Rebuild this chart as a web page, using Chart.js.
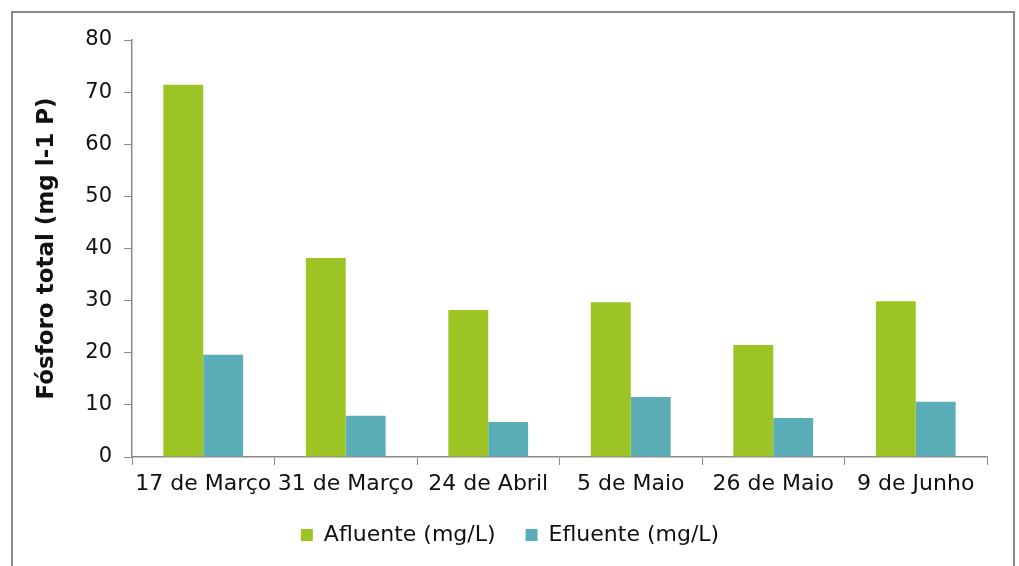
<!DOCTYPE html>
<html>
<head>
<meta charset="utf-8">
<script src="https://cdn.jsdelivr.net/npm/chart.js@4.4.1/dist/chart.umd.min.js"></script>
<style>
  html, body { margin: 0; padding: 0; background: #fff; }
  #wrap { position: relative; width: 1019px; height: 566px; overflow: hidden; }
  #frame { position: absolute; left: 11px; top: 11px; width: 1004px; height: 600px;
           border: 2px solid #8a8a8a; box-sizing: border-box; }
  #c { position: absolute; left: 0; top: 0; }
</style>
</head>
<body>
<div id="wrap">
  <div id="frame"></div>
  <canvas id="c" width="1019" height="566"></canvas>
</div>
<script>
const categories = ['17 de Março', '31 de Março', '24 de Abril', '5 de Maio', '26 de Maio', '9 de Junho'];
const afluente = [71.4, 38.2, 28.2, 29.7, 21.5, 29.9];
const efluente = [19.6, 7.9, 6.7, 11.5, 7.5, 10.6];
const seriesNames = ['Afluente (mg/L)', 'Efluente (mg/L)'];
const yTitle = 'Fósforo total (mg l-1 P)';

const FONT = 'DejaVu Sans';
const AXIS = '#8a8a8a';

new Chart(document.getElementById('c'), {
  type: 'bar',
  data: {
    labels: categories,
    datasets: [
      { label: seriesNames[0], data: afluente, backgroundColor: '#9BC424' },
      { label: seriesNames[1], data: efluente, backgroundColor: '#5BAEB7' }
    ]
  },
  options: {
    responsive: false,
    animation: false,
    devicePixelRatio: 1,
    layout: { padding: { left: 33, right: 32, top: 40, bottom: 10 } },
    datasets: { bar: { categoryPercentage: 0.56, barPercentage: 1.0 } },
    plugins: {
      tooltip: { enabled: false },
      legend: {
        position: 'bottom',
        labels: {
          boxWidth: 12, boxHeight: 12, padding: 30,
          color: '#111', font: { family: FONT, size: 22 }
        }
      }
    },
    scales: {
      x: {
        afterFit: (s) => { s.height = 37; },
        grid: { offset: true, drawOnChartArea: false, drawTicks: true, tickLength: 8, color: AXIS, tickColor: AXIS },
        border: { color: AXIS, width: 1.5 },
        ticks: { color: '#111', font: { family: FONT, size: 22 }, maxRotation: 0, autoSkip: false, padding: 6 }
      },
      y: {
        min: 0, max: 80,
        afterFit: (s) => { s.width = 99; },
        grid: { drawOnChartArea: false, drawTicks: true, tickLength: 8, color: AXIS, tickColor: AXIS },
        border: { color: AXIS, width: 1.5 },
        ticks: { stepSize: 10, color: '#111', font: { family: FONT, size: 21 }, padding: 12 },
        title: { display: true, text: yTitle, color: '#111', font: { family: FONT, size: 23, weight: 'bold' }, padding: { top: 0, bottom: 0 } }
      }
    }
  }
});
</script>
</body>
</html>
